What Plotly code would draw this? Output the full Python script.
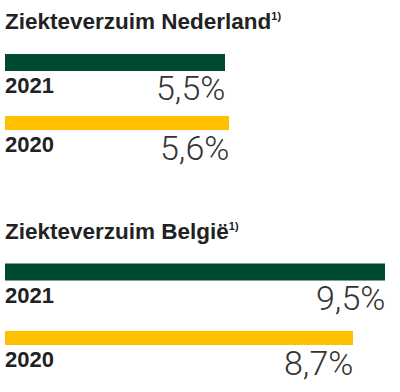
import plotly.graph_objects as go

# ---- data ----
regions = ["Ziekteverzuim Nederland", "Ziekteverzuim België"]
years = ["2021", "2020"]
values = {
    "Ziekteverzuim Nederland": [5.5, 5.6],
    "Ziekteverzuim België": [9.5, 8.7],
}
footnote = "1)"

# ---- styling / layout constants ----
W, H = 400, 392
colors = ["#004A2F", "#FFC000"]
text_color = "#222222"
bold_font = "Liberation Sans"
light_font = "Roboto"

# vertical layout (pixels from top) per section
sections = [
    dict(title_y=21, bars=[(62.5, 17), (123, 14)], labels=[85, 144.5]),
    dict(title_y=231, bars=[(272, 17), (338, 14)], labels=[295, 359.5]),
]

fig = go.Figure()

annotations = []
for reg, sec in zip(regions, sections):
    vals = values[reg]
    for i, (yr, v) in enumerate(zip(years, vals)):
        yc, thick = sec["bars"][i]
        fig.add_trace(go.Bar(
            x=[v], y=[yc], width=[thick], base=0, orientation="h",
            marker=dict(color=colors[i], line=dict(width=0)),
            hoverinfo="skip", showlegend=False,
        ))
        ly = sec["labels"][i]
        annotations.append(dict(
            x=0, y=ly, xref="x", yref="y", xanchor="left", yanchor="middle",
            xshift=-2,
            text=f"<b>{yr}</b>", showarrow=False,
            font=dict(family=bold_font, size=22, color=text_color),
        ))
        annotations.append(dict(
            x=v, y=ly + 3, xref="x", yref="y", xanchor="right", yanchor="middle",
            xshift=2,
            text=f"{v:.1f}".replace(".", ",") + "%", showarrow=False,
            font=dict(family=light_font, size=34, color="#333333", weight=300),
        ))
    annotations.append(dict(
        x=0, y=sec["title_y"], xref="x", yref="y", xanchor="left", yanchor="middle",
        xshift=-2,
        text=f"<b>{reg}</b><sup><span style='font-size:11px'><b>{footnote}</b></span></sup>",
        showarrow=False,
        font=dict(family=bold_font, size=22.5, color=text_color),
    ))

fig.update_layout(
    width=W, height=H,
    margin=dict(l=0, r=0, t=0, b=0),
    paper_bgcolor="white", plot_bgcolor="white",
    barmode="overlay",
    xaxis=dict(range=[-5 / 40, (W - 5) / 40], visible=False, fixedrange=True),
    yaxis=dict(range=[H, 0], visible=False, fixedrange=True),
    annotations=annotations,
)

fig.write_html(
    "out.html",
    config={"displayModeBar": False, "staticPlot": True},
    post_script="document.body.style.margin='0';",
)
